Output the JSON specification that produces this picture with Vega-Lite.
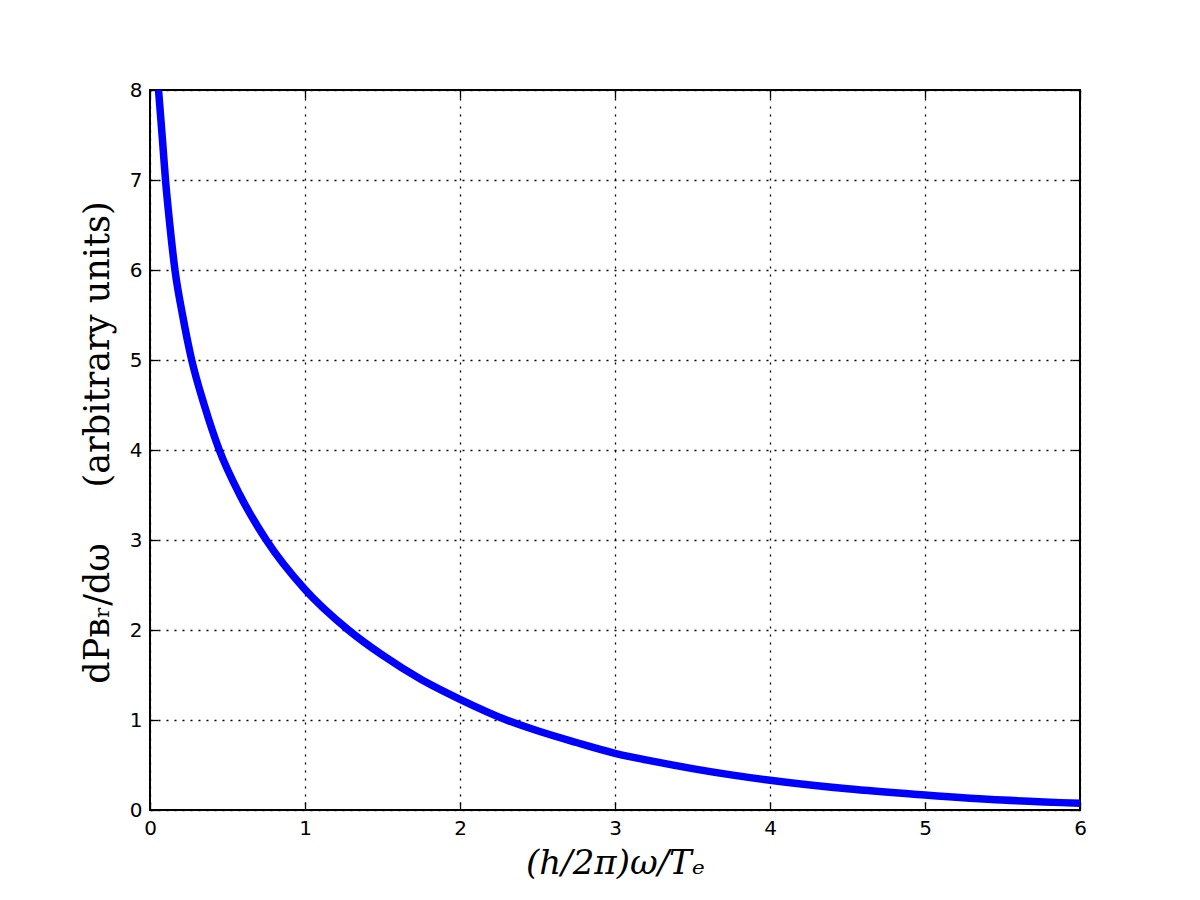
{
  "$schema": "https://vega.github.io/schema/vega-lite/v6.json",
  "width": 930,
  "height": 720,
  "autosize": {"type": "none"},
  "padding": {"left": 150, "top": 90, "right": 120, "bottom": 90},
  "background": "white",
  "config": {
    "view": {"stroke": "black", "strokeWidth": 2},
    "axis": {
      "grid": true,
      "gridColor": "black",
      "gridDash": [2, 6],
      "gridWidth": 1.3,
      "gridOpacity": 1,
      "domain": false,
      "ticks": true,
      "tickSize": -8,
      "tickColor": "black",
      "tickWidth": 1.3,
      "labelFont": "DejaVu Sans",
      "labelFontSize": 20,
      "labelColor": "black",
      "labelFlush": false,
      "labelOverlap": false,
      "titleFont": "DejaVu Serif",
      "titleFontSize": 30,
      "titleFontWeight": "normal",
      "titleColor": "black"
    }
  },
  "data": {
    "values": [
      {"x": 0.055, "y": 8.0},
      {"x": 0.078, "y": 7.5},
      {"x": 0.1, "y": 7.0},
      {"x": 0.128, "y": 6.5},
      {"x": 0.161, "y": 6.0},
      {"x": 0.21, "y": 5.5},
      {"x": 0.269, "y": 5.0},
      {"x": 0.35, "y": 4.5},
      {"x": 0.447, "y": 4.0},
      {"x": 0.58, "y": 3.5},
      {"x": 0.75, "y": 3.0},
      {"x": 1.0, "y": 2.45},
      {"x": 1.28, "y": 2.0},
      {"x": 1.5, "y": 1.72},
      {"x": 1.75, "y": 1.45},
      {"x": 2.0, "y": 1.23},
      {"x": 2.3, "y": 1.0},
      {"x": 2.5, "y": 0.88},
      {"x": 2.75, "y": 0.75},
      {"x": 3.0, "y": 0.63},
      {"x": 3.25, "y": 0.54},
      {"x": 3.5, "y": 0.46},
      {"x": 3.75, "y": 0.39},
      {"x": 4.0, "y": 0.33},
      {"x": 4.5, "y": 0.235},
      {"x": 5.0, "y": 0.167},
      {"x": 5.5, "y": 0.11},
      {"x": 6.0, "y": 0.074}
    ]
  },
  "layer": [
    {
      "mark": {"type": "line", "color": "#0000ff", "strokeWidth": 7.5, "interpolate": "monotone", "clip": true},
      "encoding": {
        "x": {
          "field": "x", "type": "quantitative",
          "scale": {"domain": [0, 6], "nice": false, "zero": false},
          "axis": {
            "orient": "bottom",
            "values": [0, 1, 2, 3, 4, 5, 6],
            "format": "d",
            "labelPadding": 16,
            "title": "(h/2π)ω/Tₑ",
            "titleFontStyle": "italic",
            "titleFontSize": 34,
            "titlePadding": 8
          }
        },
        "y": {
          "field": "y", "type": "quantitative",
          "scale": {"domain": [0, 8], "nice": false},
          "axis": {
            "orient": "left",
            "values": [0, 1, 2, 3, 4, 5, 6, 7, 8],
            "format": "d",
            "labelPadding": 16,
            "title": "dPʙᵣ/dω\u00a0\u00a0\u00a0\u00a0\u00a0(arbitrary units)",
            "titleFontSize": 35,
            "titlePadding": 14,
            "titleY": 352
          }
        }
      }
    },
    {
      "mark": {"type": "line", "opacity": 0},
      "encoding": {
        "x": {
          "field": "x", "type": "quantitative",
          "scale": {"domain": [0, 6], "nice": false, "zero": false},
          "axis": {"orient": "top", "values": [0, 1, 2, 3, 4, 5, 6], "labels": false, "grid": false, "title": null}
        },
        "y": {
          "field": "y", "type": "quantitative",
          "scale": {"domain": [0, 8], "nice": false},
          "axis": {"orient": "right", "values": [0, 1, 2, 3, 4, 5, 6, 7, 8], "labels": false, "grid": false, "title": null}
        }
      }
    }
  ],
  "resolve": {"axis": {"x": "independent", "y": "independent"}}
}
